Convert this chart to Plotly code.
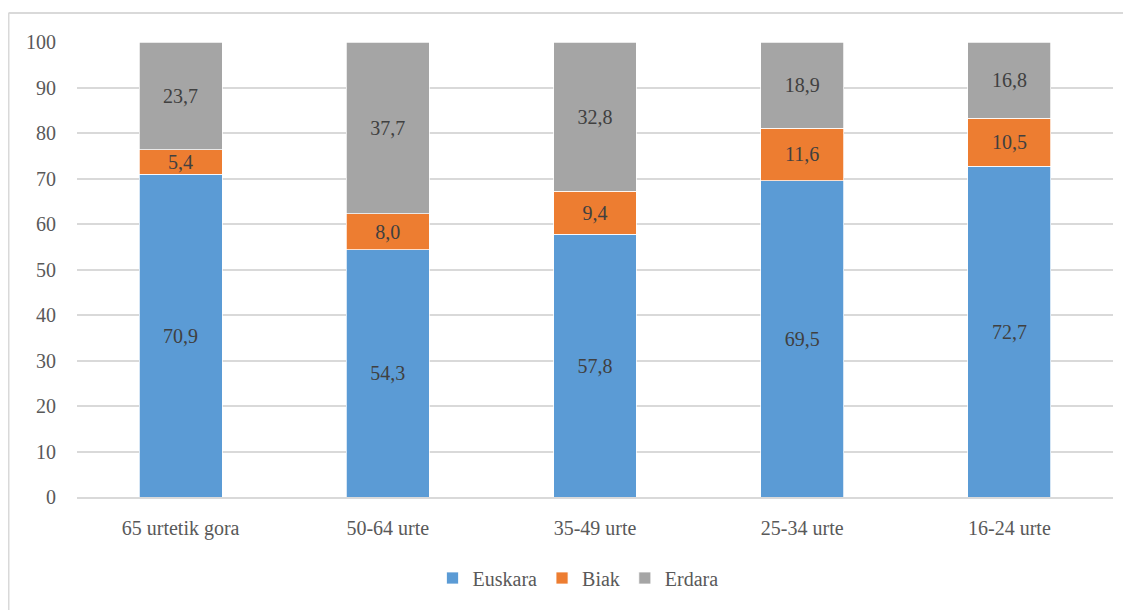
import plotly.graph_objects as go

categories = ["65 urtetik gora", "50-64 urte", "35-49 urte", "25-34 urte", "16-24 urte"]
euskara = [70.9, 54.3, 57.8, 69.5, 72.7]
biak = [5.4, 8.0, 9.4, 11.6, 10.5]
erdara = [23.7, 37.7, 32.8, 18.9, 16.8]
y_ticks = [0, 10, 20, 30, 40, 50, 60, 70, 80, 90, 100]

FONT = "Liberation Serif"
FS = 20
series = [("Euskara", euskara, "#5B9BD5"), ("Biak", biak, "#ED7D31"), ("Erdara", erdara, "#A5A5A5")]

fig = go.Figure()
for name, vals, col in series:
    fig.add_trace(go.Bar(
        x=categories, y=vals, name=name,
        marker=dict(color=col, line=dict(color="white", width=0.75)),
        texttemplate="%{y:.1f}", textposition="inside", insidetextanchor="middle",
        textfont=dict(family=FONT, size=FS, color="#404040"),
        hoverinfo="skip",
    ))

# page has an 8px body margin; figure coordinates = screen - 8
OFF = 8
W, H = 1131 - OFF, 610 - OFF
ml, mt = 77 - OFF, 42 - OFF
pw, ph = 1036, 455
mr, mb = W - ml - pw, H - mt - ph

def px(x):
    return (x - OFF - ml) / pw

def py(y):
    return (mt + ph - (y - OFF)) / ph

fig.update_layout(
    width=W, height=H, barmode="stack", bargap=0.6,
    separators=", ",
    margin=dict(l=ml, r=mr, t=mt, b=mb, autoexpand=False),
    paper_bgcolor="white", plot_bgcolor="white",
    font=dict(family=FONT, size=FS, color="#595959"),
    uniformtext=dict(mode="show", minsize=FS),
    xaxis=dict(showgrid=False, showline=True, linecolor="#D9D9D9", linewidth=1.5,
               ticks="", ticklabelstandoff=12, tickfont=dict(family=FONT, size=FS, color="#595959")),
    yaxis=dict(range=[0, 100], tickvals=y_ticks, showgrid=True, gridcolor="#D9D9D9",
               gridwidth=1.5, zeroline=False, showline=False, ticks="",
               ticklabelstandoff=20, tickfont=dict(family=FONT, size=FS, color="#595959")),
    legend=dict(orientation="h", x=px(578), xanchor="center", y=py(578), yanchor="middle",
                font=dict(family=FONT, size=FS, color="#595959"), traceorder="normal"),
    shapes=[
        dict(type="line", xref="paper", yref="paper", x0=px(8.5), x1=px(1145), y0=py(13), y1=py(13),
             line=dict(color="#D9D9D9", width=2)),
        dict(type="line", xref="paper", yref="paper", x0=px(8.5), x1=px(8.5), y0=py(13), y1=py(620),
             line=dict(color="#D9D9D9", width=2)),
    ],
)

fig.write_html("out.html")
